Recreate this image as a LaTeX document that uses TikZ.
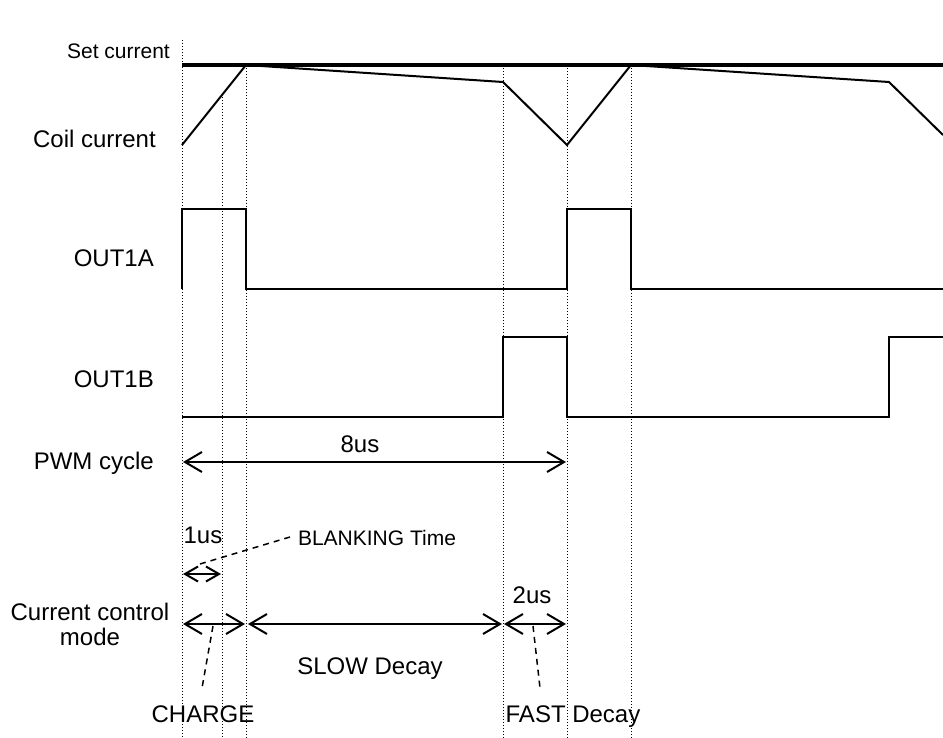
\documentclass[tikz,border=0pt]{standalone}
\usepackage{fontspec}
\setmainfont{Liberation Sans}
\usetikzlibrary{arrows.meta}
\begin{document}
\begin{tikzpicture}[x=1pt,y=-1pt,
  sig/.style={line width=2pt, line join=miter},
  setline/.style={line width=3.5pt},
  guide/.style={line width=1pt, dash pattern=on 1pt off 2pt},
  dimarrow/.style={line width=2pt, {Straight Barb[length=17pt,width=20pt]}-{Straight Barb[length=17pt,width=20pt]}},
  dimsmall/.style={line width=2pt, {Straight Barb[length=13pt,width=15pt]}-{Straight Barb[length=13pt,width=15pt]}},
  lead/.style={line width=1.5pt, dash pattern=on 6pt off 5pt},
  lbl/.style={font=\fontsize{24}{28}\selectfont, inner sep=0pt},
  slbl/.style={font=\fontsize{21}{25}\selectfont, inner sep=0pt}]
\useasboundingbox (0,0) rectangle (943,738);

% time marks
\coordinate (g0t) at (182,40);  \coordinate (g0b) at (182,738);
\coordinate (g1t) at (222,97);  \coordinate (g1b) at (222,738);
\coordinate (g2t) at (246,68);  \coordinate (g2b) at (246,738);
\coordinate (g3t) at (503,68);  \coordinate (g3b) at (503,738);
\coordinate (g4t) at (567,68);  \coordinate (g4b) at (567,738);
\coordinate (g5t) at (631,68);  \coordinate (g5b) at (631,738);

\foreach \i in {0,...,5} { \draw[guide] (g\i t) -- (g\i b); }

% set current
\coordinate (setL) at (182,65); \coordinate (setR) at (943,65);
\draw[setline] (setL) -- (setR);

% coil current
\draw[sig] (182,145) -- (246,65) -- (503,82) -- (567,145) -- (631,65) -- (889,82) -- (943,135);

% OUT1A
\draw[sig] (182,289) -- (182,209) -- (246,209) -- (246,289) -- (567,289) -- (567,209) -- (631,209) -- (631,289) -- (943,289);

% OUT1B
\draw[sig] (182,417) -- (503,417) -- (503,337) -- (567,337) -- (567,417) -- (889,417) -- (889,337) -- (943,337);

% left labels
\node[slbl, anchor=base east] (lset) at (170,59) {Set current};
\node[lbl, anchor=base east] (lcoil) at (156,148) {Coil current};
\node[lbl, anchor=base east] (lout1a) at (154,267) {OUT1A};
\node[lbl, anchor=base east] (lout1b) at (154,387) {OUT1B};
\node[lbl, anchor=base east] (lpwm) at (154,469) {PWM cycle};
\node[lbl, anchor=base] (lccm1) at (90,620) {Current control};
\node[lbl, anchor=base] (lccm2) at (90,645) {mode};

% PWM cycle arrow
\coordinate (pwmL) at (183,462); \coordinate (pwmR) at (566,462);
\draw[dimarrow] (pwmL) -- (pwmR);
\node[lbl, anchor=base] (t8us) at (360,452) {8us};

% blanking
\coordinate (blL) at (183,574); \coordinate (blR) at (221,574);
\draw[dimsmall] (blL) -- (blR);
\node[lbl, anchor=base] (t1us) at (203,543) {1us};
\node[slbl, anchor=base] (tblank) at (377,545) {BLANKING Time};
\coordinate (blk1) at (290,537); \coordinate (blk2) at (200,564);
\draw[lead] (blk1) -- (blk2);

% current control mode arrows
\coordinate (chL) at (183,624); \coordinate (chR) at (245,624);
\coordinate (slL) at (248,624); \coordinate (slR) at (502,624);
\coordinate (faL) at (504,624); \coordinate (faR) at (566,624);
\draw[dimarrow] (chL) -- (chR);
\draw[dimarrow] (slL) -- (slR);
\draw[dimarrow] (faL) -- (faR);
\node[lbl, anchor=base] (t2us) at (532,603) {2us};
\node[lbl, anchor=base] (tslow) at (370,674) {SLOW Decay};
\node[lbl, anchor=base] (tcharge) at (203,722) {CHARGE};
\node[lbl, anchor=base] (tfast) at (573,722) {FAST Decay};
\coordinate (ch1) at (213,626); \coordinate (ch2) at (202,688);
\coordinate (fa1) at (533,626); \coordinate (fa2) at (540,688);
\draw[lead] (ch1) -- (ch2);
\draw[lead] (fa1) -- (fa2);
\end{tikzpicture}
\end{document}
